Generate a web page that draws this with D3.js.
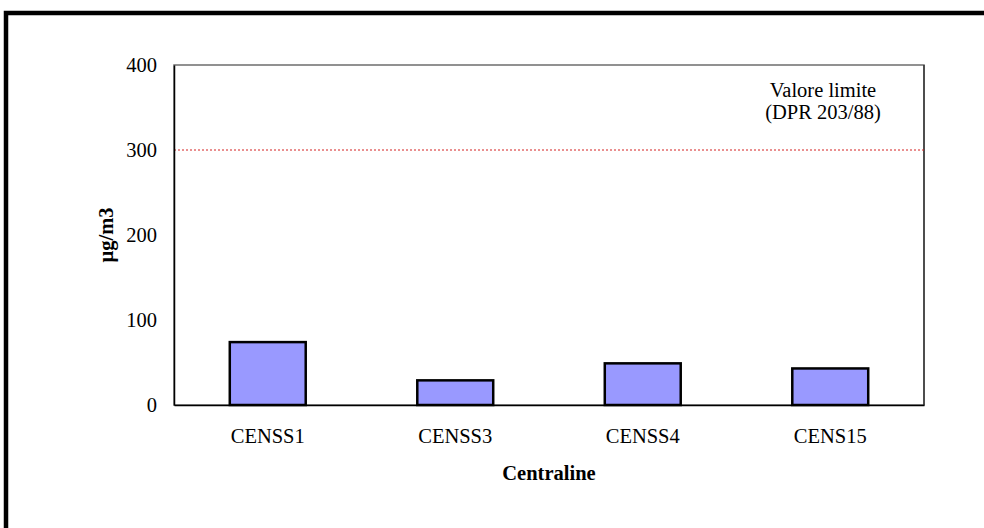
<!DOCTYPE html>
<html>
<head>
<meta charset="utf-8">
<script src="https://cdn.jsdelivr.net/npm/d3@7"></script>
<style>
  html, body { margin: 0; padding: 0; background: #fff; }
  svg { display: block; }
</style>
</head>
<body>
<div id="main"></div>
<script>
// data
var categories = ["CENSS1", "CENSS3", "CENSS4", "CENS15"];
var values = [74, 29, 49, 43];
var yTicks = [0, 100, 200, 300, 400];
var limitValue = 300;
var limitLabel = ["Valore limite", "(DPR 203/88)"];
var yTitle = "µg/m3";
var xTitle = "Centraline";

var ctx = {
    w: 984,
    h: 528,
    left: 174,
    right: 924,
    top: 65,
    bottom: 405,
    FONT: "'Liberation Serif', 'Times New Roman', serif",
    FONT_SIZE: 20.5,
};

var svg = d3.select("#main").append("svg")
    .attr("width", ctx.w)
    .attr("height", ctx.h);

// outer frame (only left and top edges fall inside the window)
svg.append("rect")
    .attr("x", 6)
    .attr("y", 13)
    .attr("width", 1100)
    .attr("height", 700)
    .attr("fill", "#fff")
    .attr("stroke", "#000")
    .attr("stroke-width", 4.5);

var x = d3.scaleBand()
    .domain(categories)
    .range([ctx.left, ctx.right])
    .paddingInner(0.595)
    .paddingOuter(0.2975);

var y = d3.scaleLinear()
    .domain([0, 400])
    .range([ctx.bottom, ctx.top]);

// plot area border
svg.append("rect")
    .attr("x", ctx.left)
    .attr("y", ctx.top)
    .attr("width", ctx.right - ctx.left)
    .attr("height", ctx.bottom - ctx.top)
    .attr("fill", "none")
    .attr("stroke", "#6e6e6e")
    .attr("stroke-width", 1.5);
svg.append("line")
    .attr("x1", ctx.right).attr("x2", ctx.right)
    .attr("y1", ctx.top).attr("y2", ctx.bottom)
    .attr("stroke", "#222").attr("stroke-width", 1.2);

// limit line
svg.append("line")
    .attr("x1", ctx.left)
    .attr("x2", ctx.right)
    .attr("y1", y(limitValue))
    .attr("y2", y(limitValue))
    .attr("stroke", "#d42020")
    .attr("stroke-width", 1)
    .attr("stroke-dasharray", "2,2");

svg.append("text")
    .attr("x", 823)
    .attr("y", 97)
    .attr("text-anchor", "middle")
    .style("font-family", ctx.FONT)
    .style("font-size", ctx.FONT_SIZE + "px")
    .selectAll("tspan")
    .data(limitLabel)
    .enter()
    .append("tspan")
    .attr("x", 823)
    .attr("dy", (d, i) => (i === 0 ? 0 : 21.5))
    .text((d) => d);

// bars
svg.append("g")
    .selectAll("rect")
    .data(values)
    .enter()
    .append("rect")
    .attr("x", (d, i) => x(categories[i]))
    .attr("y", (d) => y(d))
    .attr("width", x.bandwidth())
    .attr("height", (d) => y(0) - y(d))
    .attr("fill", "#9999ff")
    .attr("stroke", "#000")
    .attr("stroke-width", 2.5);

// y axis
var yAxis = svg.append("g")
    .attr("transform", `translate(${ctx.left},0)`)
    .call(d3.axisLeft(y).tickValues(yTicks).tickSize(0).tickPadding(17).tickFormat(d3.format("d")));
yAxis.select(".domain").attr("stroke", "#000").attr("stroke-width", 1.5);
yAxis.selectAll("text")
    .attr("fill", "#000")
    .style("font-family", ctx.FONT)
    .style("font-size", ctx.FONT_SIZE + "px");

// x axis
var xAxis = svg.append("g")
    .attr("transform", `translate(0,${ctx.bottom})`)
    .call(d3.axisBottom(x).tickSize(0).tickPadding(0));
xAxis.select(".domain").attr("stroke", "#000").attr("stroke-width", 1.5);
xAxis.selectAll("text")
    .attr("fill", "#000")
    .attr("dy", null)
    .attr("y", 38)
    .style("font-family", ctx.FONT)
    .style("font-size", ctx.FONT_SIZE + "px");

// axis titles
svg.append("text")
    .attr("transform", `translate(113,${(ctx.top + ctx.bottom) / 2}) rotate(-90)`)
    .attr("text-anchor", "middle")
    .style("font-family", ctx.FONT)
    .style("font-weight", "bold")
    .style("font-size", ctx.FONT_SIZE + "px")
    .text(yTitle);

svg.append("text")
    .attr("x", (ctx.left + ctx.right) / 2)
    .attr("y", 480)
    .attr("text-anchor", "middle")
    .style("font-family", ctx.FONT)
    .style("font-weight", "bold")
    .style("font-size", ctx.FONT_SIZE + "px")
    .text(xTitle);
</script>
</body>
</html>
